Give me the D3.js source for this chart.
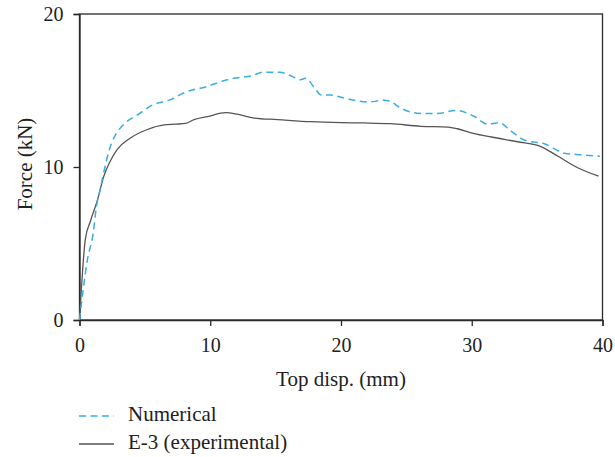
<!DOCTYPE html>
<html><head><meta charset="utf-8">
<script src="https://cdn.jsdelivr.net/npm/d3@7"></script>
<style>body{margin:0;background:#fff}svg{display:block}</style>
</head><body><svg id="c" width="615" height="457"></svg>
<script>
const numDisp = [0,0.59,1.1,1.23,1.61,2.0,2.25,2.63,3.4,4.42,5.7,6.97,7.74,8.76,9.5,10.55,11.8,13.1,14.1,15.3,16.2,16.9,17.3,17.95,18.5,19.23,20.25,22.05,23.3,23.8,24.3,26.1,27.4,28.8,30.2,31.2,32.1,33.0,34.05,35.6,37.1,38.4,39.8];
const numForce = [0,3.86,6.0,7.0,8.65,10.2,11.05,11.9,12.8,13.4,14.1,14.4,14.75,15.07,15.2,15.5,15.8,15.95,16.2,16.2,15.95,15.7,15.8,15.2,14.7,14.7,14.5,14.25,14.36,14.3,13.99,13.5,13.5,13.7,13.3,12.8,12.9,12.35,11.75,11.5,10.9,10.8,10.7];
const expDisp = [0,0.45,0.84,1.36,1.86,2.3,2.89,3.9,5.19,6.46,7.36,8.12,8.76,9.79,11.19,12.08,13.36,15.15,17.7,20.0,21.8,23.8,26.1,28.2,28.9,30.2,31.5,33.5,35.2,36.6,38.1,39.7];
const expForce = [0,5.3,6.47,7.8,9.4,10.3,11.15,11.9,12.45,12.75,12.8,12.85,13.1,13.3,13.55,13.45,13.2,13.1,12.96,12.9,12.88,12.83,12.66,12.61,12.5,12.18,11.96,11.65,11.37,10.7,9.95,9.4];
const xTicks = [0,10,20,30,40];
const yTicks = [0,10,20];
const seriesNames = ["Numerical","E-3 (experimental)"];

const FONT = '"Liberation Serif", serif';
const AX = "#2a2a2a";
const svg = d3.select("#c");
const x = d3.scaleLinear().domain([0,40]).range([79.5,602.5]);
const y = d3.scaleLinear().domain([0,20]).range([320,14]);

svg.append("rect").attr("x",x(0)).attr("y",y(20)).attr("width",x(40)-x(0)).attr("height",y(0)-y(20))
  .attr("fill","none").attr("stroke",AX).attr("stroke-width",1.3);

const xa = svg.append("g").attr("transform",`translate(0,${y(0)})`)
  .call(d3.axisBottom(x).tickValues(xTicks).tickSize(6).tickPadding(12).tickFormat(d3.format("d")));
const ya = svg.append("g").attr("transform",`translate(${x(0)},0)`)
  .call(d3.axisLeft(y).tickValues(yTicks).tickSize(6).tickPadding(10).tickFormat(d3.format("d")));
[xa,ya].forEach(a=>{
  a.attr("font-family",FONT).attr("font-size",20);
  a.select(".domain").attr("stroke",AX).attr("stroke-width",1.3);
  a.selectAll(".tick line").attr("stroke",AX).attr("stroke-width",1.3);
  a.selectAll(".tick text").attr("fill","#222");
});

const line = d3.line().x(d=>x(d[0])).y(d=>y(d[1])).curve(d3.curveMonotoneX);
svg.append("path").datum(expDisp.map((d,i)=>[d,expForce[i]]))
  .attr("d",line).attr("fill","none").attr("stroke","#555").attr("stroke-width",1.3);
svg.append("path").datum(numDisp.map((d,i)=>[d,numForce[i]]))
  .attr("d",line).attr("fill","none").attr("stroke","#3aaee2").attr("stroke-width",1.5)
  .attr("stroke-dasharray","7,4.5");

svg.append("text").attr("x",341).attr("y",386).attr("text-anchor","middle")
  .attr("font-size",21).attr("font-family",FONT).attr("fill","#222").text("Top disp. (mm)");
svg.append("text").attr("transform","translate(32,164) rotate(-90)").attr("text-anchor","middle")
  .attr("font-size",21).attr("font-family",FONT).attr("fill","#222").text("Force (kN)");

const lg = [{name:seriesNames[0],stroke:"#3aaee2",dash:"7,4.5",w:1.5,y:416},
            {name:seriesNames[1],stroke:"#555",dash:null,w:1.3,y:444}];
lg.forEach(l=>{
  svg.append("line").attr("x1",79).attr("x2",114).attr("y1",l.y).attr("y2",l.y)
    .attr("stroke",l.stroke).attr("stroke-width",l.w).attr("stroke-dasharray",l.dash);
  svg.append("text").attr("x",128).attr("y",l.y+5).attr("font-size",21)
    .attr("font-family",FONT).attr("fill","#222").text(l.name);
});
</script></body></html>
